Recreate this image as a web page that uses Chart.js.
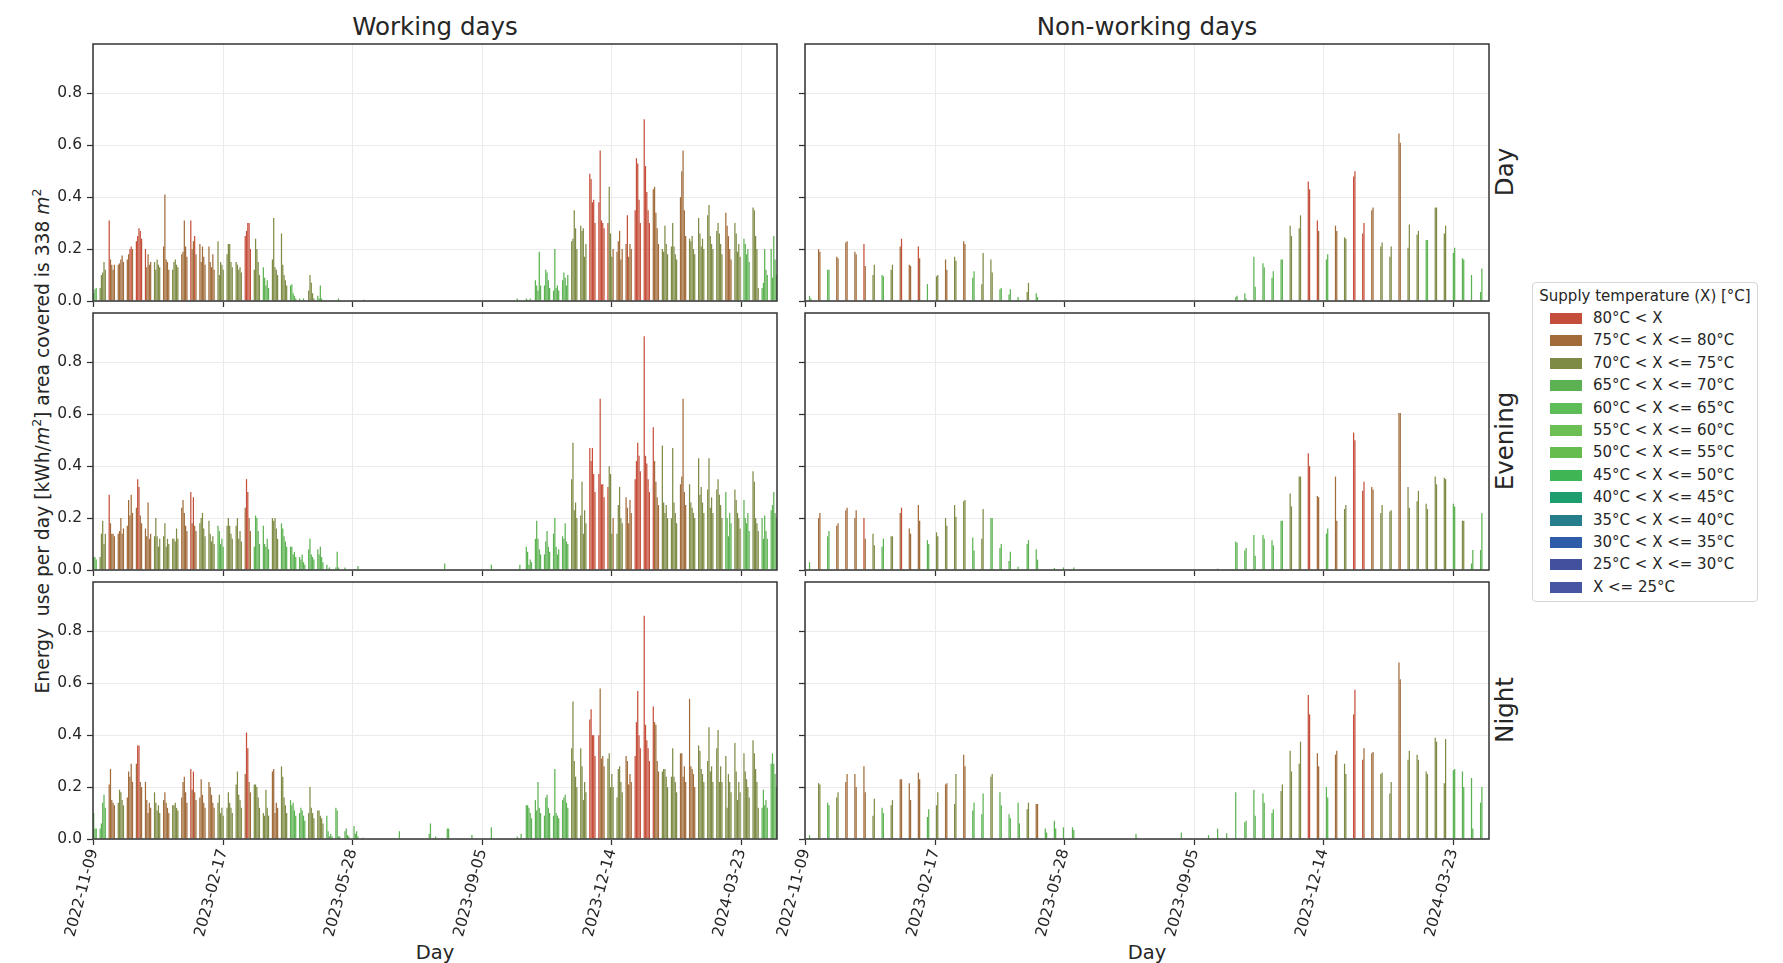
<!DOCTYPE html>
<html>
<head>
<meta charset="utf-8">
<script src="https://cdn.jsdelivr.net/npm/chart.js@4.4.1/dist/chart.umd.min.js"></script>
<style>
body { margin: 0; background: #fff; font-family: "DejaVu Sans", sans-serif; color: #262626; }
#page { position: relative; width: 1783px; height: 963px; overflow: hidden; background: #fff; }
canvas { position: absolute; }
.lbl { position: absolute; white-space: nowrap; transform: translate(-50%, -50%); }
.rot { transform: translate(-50%, -50%) rotate(-90deg); }
#legend { position: absolute; left: 1532px; top: 282px; width: 226px; height: 320px; box-sizing: border-box;
  border: 1px solid #d6d6d6; border-radius: 4px; font-size: 15px; }
#legend .ttl { position: absolute; top: 2px; left: 0; width: 100%; text-align: center; line-height: 22px; }
#legend .row { position: absolute; left: 0; height: 22.4px; line-height: 22.4px; white-space: nowrap; }
#legend .sw { position: absolute; left: 17px; top: 6px; width: 32px; height: 11px; }
#legend .tx { position: absolute; left: 60px; top: 0; }
</style>
</head>
<body>
<div id="page">
  <div class="lbl" style="left:435px;top:26px;font-size:24.5px">Working days</div>
  <div class="lbl" style="left:1147px;top:26px;font-size:24.5px">Non-working days</div>
  <div class="lbl rot" style="left:1504px;top:172px;font-size:24.5px">Day</div>
  <div class="lbl rot" style="left:1504px;top:441px;font-size:24.5px">Evening</div>
  <div class="lbl rot" style="left:1504px;top:710px;font-size:24.5px">Night</div>
  <div class="lbl rot" style="left:41px;top:441px;font-size:18.7px">Energy&nbsp; use per day [kWh/<i>m</i><sup style="font-size:12.5px">2</sup>] area covered is 338 <i>m</i><sup style="font-size:12.5px">2</sup></div>
  <div class="lbl" style="left:435px;top:952px;font-size:19.5px">Day</div>
  <div class="lbl" style="left:1147px;top:952px;font-size:19.5px">Day</div>
  <div id="legend"><div class="ttl">Supply temperature (X) [°C]</div></div>
</div>
<script>
// x axis: one slot per day
const firstDay = '2022-11-09';
const nDays = 528;
const xTickDates = ['2022-11-09', '2023-02-17', '2023-05-28', '2023-09-05', '2023-12-14', '2024-03-23'];
const yTicks = [0, 0.2, 0.4, 0.6, 0.8];
const yMax = 0.99;

const catLabels = ['X <= 25°C', '25°C < X <= 30°C', '30°C < X <= 35°C', '35°C < X <= 40°C', '40°C < X <= 45°C',
  '45°C < X <= 50°C', '50°C < X <= 55°C', '55°C < X <= 60°C', '60°C < X <= 65°C', '65°C < X <= 70°C',
  '70°C < X <= 75°C', '75°C < X <= 80°C', '80°C < X'];
const catColors = ['#4656a2', '#43509e', '#2d5ca8', '#267e8c', '#1e9d6e', '#40b554', '#66bc4e', '#6cbf52',
  '#5ebd56', '#5cb252', '#7d8b45', '#a16b3a', '#c54e3a'];
// letter used in the week tables below -> category index
const catCode = { g: 9, o: 10, b: 11, r: 12 };

const Z5 = [0, 0, 0, 0, 0], Z2 = [0, 0];

// working days: one row per week (Mon..Fri), week 0 starts Mon 2022-11-07
const wdDay = [
  [0,0,.03,.045,.05],[.05,.10,.11,.15,.12],[.31,.16,.14,.12,.14],[.14,.145,.16,.175,.15],[.16,.18,.20,.21,.20],
  [.23,.25,.28,.27,.24],[.20,.13,.18,.14,.15],[.15,.12,.16,.14,.13],[.21,.41,.16,.15,.12],[.12,.15,.16,.14,.13],
  [.18,.19,.31,.21,.17],[.31,.20,.23,.25,.18],[.22,.15,.21,.17,.14],[.21,.15,.13,.18,.12],[.23,.10,.15,.14,.12],
  [.18,.22,.22,.15,.13],[.15,.14,.12,.13,.11],[.25,.27,.30,.30,.20],[.12,.24,.20,.15,.10],[.13,.09,.06,.08,.05],
  [.16,.32,.13,.12,.10],[.26,.14,.10,.08,.06],[.06,.065,.03,.02,.01],[.01,0,0,.01,0],[.04,.10,.07,.03,.01],
  [.02,.01,.06,.01,0],Z5,[0,0,.01,0,0],Z5,Z5,
  [0,.005,0,0,0],Z5,Z5,Z5,Z5,Z5,Z5,Z5,Z5,Z5,
  Z5,Z5,Z5,Z5,Z5,Z5,Z5,[.01,0,0,0,0],[.01,.005,0,.01,0],[.08,.06,.04,.19,.06],
  [.06,.12,.11,.08,.05],[.04,.20,.05,.06,.04],[.08,.11,.09,.06,.10],[.23,.24,.35,.28,.20],[.29,.27,.28,.17,.22],
  [.49,.47,.38,.39,.30],[.38,.58,.31,.30,.28],[.30,.44,.26,.17,.20],[.19,.23,.27,.16,.20],[.22,.33,.17,.22,.20],
  [.35,.55,.53,.39,.30],[.70,.52,.42,.35,.30],[.43,.44,.34,.28,.22],[.20,.19,.29,.22,.18],[.21,.30,.21,.18,.16],
  [.40,.50,.58,.35,.25],[.24,.23,.25,.20,.18],[.32,.26,.21,.24,.20],[.33,.37,.25,.22,.20],[.27,.30,.26,.22,.18],
  [.34,.29,.25,.20,.16],[.30,.26,.19,.22,.17],[.24,.22,.18,.20,.15],[.36,.35,.25,.20,.05],[.05,.07,.20,.12,.10],
  [.20,.09,.25,.16,.10]
];
const wdEve = [
  [0,0,.05,.05,.04],[.05,.14,.19,.10,.14],[.29,.18,.14,.14,.13],[.14,.15,.20,.14,.16],[.17,.27,.21,.29,.22],
  [.24,.35,.32,.21,.18],[.16,.13,.26,.12,.14],[.13,.20,.13,.09,.12],[.13,.18,.09,.12,.10],[.12,.12,.11,.16,.12],
  [.24,.27,.22,.17,.15],[.30,.18,.28,.17,.15],[.18,.20,.22,.16,.13],[.19,.14,.11,.13,.10],[.17,.15,.10,.12,.09],
  [.17,.20,.17,.14,.12],[.17,.20,.12,.15,.11],[.24,.35,.30,.20,.15],[.09,.21,.20,.15,.10],[.17,.10,.09,.12,.08],
  [.20,.19,.20,.16,.12],[.18,.16,.13,.11,.09],[.09,.09,.06,.07,.05],[.05,.04,.06,.03,.02],[.08,.12,.06,.05,.04],
  [.08,.06,.09,.05,.03],[.02,.005,.01,0,0],[.01,.07,.01,0,0],[.01,0,0,0,0],[0,0,0,.015,0],
  Z5,Z5,Z5,Z5,[.003,0,0,0,0],Z5,Z5,Z5,Z5,[.025,0,0,0,0],
  Z5,Z5,Z5,Z5,[0,.02,0,0,0],Z5,Z5,[0,0,.02,0,0],[.09,.07,.02,.04,.03],[.12,.19,.12,.08,.06],
  [.06,.11,.15,.09,.07],[.14,.20,.09,.06,.08],[.13,.12,.18,.11,.10],[.35,.49,.23,.26,.20],[.21,.34,.14,.23,.18],
  [.47,.42,.47,.37,.30],[.37,.66,.33,.33,.28],[.32,.40,.37,.14,.20],[.14,.25,.32,.20,.18],[.28,.24,.18,.27,.22],
  [.35,.42,.49,.44,.38],[.90,.44,.41,.35,.30],[.55,.42,.34,.28,.25],[.48,.26,.22,.25,.20],[.20,.47,.26,.22,.18],
  [.33,.36,.66,.30,.25],[.33,.26,.24,.22,.20],[.43,.29,.32,.26,.22],[.31,.43,.24,.28,.22],[.31,.35,.29,.25,.20],
  [.30,.20,.13,.22,.18],[.31,.27,.22,.20,.16],[.27,.20,.18,.22,.15],[.38,.34,.20,.18,.15],[.20,.12,.21,.15,.12],
  [.23,.25,.30,.22,.20]
];
const wdNight = [
  [0,0,.10,.04,.04],[.04,.06,.14,.17,.12],[.21,.27,.15,.14,.13],[.14,.19,.18,.15,.13],[.16,.26,.24,.29,.22],
  [.29,.36,.36,.22,.20],[.22,.15,.10,.14,.12],[.18,.14,.11,.13,.10],[.15,.18,.14,.12,.10],[.13,.13,.14,.12,.11],
  [.16,.22,.24,.18,.14],[.27,.19,.26,.18,.15],[.16,.23,.17,.14,.12],[.22,.20,.17,.14,.12],[.14,.17,.10,.12,.09],
  [.12,.18,.14,.12,.10],[.21,.26,.17,.15,.12],[.25,.41,.35,.22,.18],[.21,.21,.20,.16,.12],[.10,.09,.19,.12,.09],
  [.26,.27,.10,.14,.12],[.28,.24,.16,.13,.10],[.15,.13,.14,.11,.09],[.10,.12,.11,.09,.07],[.10,.20,.12,.10,.08],
  [.11,.11,.09,.08,.06],[.09,.03,.01,.02,.01],[.12,.11,.01,.01,0],[.03,.04,.015,.01,0],[.05,.02,.03,.01,0],
  [.005,0,0,0,0],Z5,Z5,Z5,[.03,0,0,0,0],Z5,Z5,[0,0,.02,.06,0],[.01,0,0,0,0],[0,0,.04,.04,0],
  Z5,Z5,[.015,0,0,0,0],Z5,[0,.045,0,0,0],Z5,Z5,[.01,0,0,.02,0],[.13,.13,.12,.10,.08],[.15,.11,.22,.12,.10],
  [.09,.16,.17,.12,.10],[.09,.27,.10,.09,.08],[.15,.16,.17,.14,.12],[.35,.53,.30,.24,.20],[.35,.28,.15,.22,.18],
  [.46,.50,.40,.40,.32],[.40,.58,.31,.32,.28],[.31,.33,.20,.25,.20],[.16,.27,.28,.22,.18],[.32,.30,.21,.25,.22],
  [.32,.45,.57,.40,.35],[.86,.44,.38,.35,.30],[.51,.45,.44,.30,.26],[.26,.27,.27,.24,.20],[.24,.35,.24,.22,.18],
  [.33,.33,.24,.28,.22],[.54,.28,.27,.25,.20],[.36,.34,.27,.25,.22],[.30,.43,.26,.28,.22],[.35,.42,.22,.28,.22],
  [.32,.12,.25,.22,.18],[.37,.26,.15,.22,.18],[.33,.26,.23,.20,.16],[.38,.33,.27,.22,.12],[.12,.19,.13,.15,.12],
  [.29,.33,.29,.25,.20]
];

// non-working days: one row per weekend (Sat, Sun)
const nwDay = [
  [.02,.01],[.20,.19],[.12,.12],[.17,.165],[.225,.23],[.19,.18],[.22,.135],[.10,.14],[.10,.095],[.12,.14],
  [.21,.24],[.14,.135],[.21,.165],[.065,0],[.095,.10],[.16,.12],[.17,.155],[.23,.22],[.09,.115],[.065,.185],
  [.16,.11],[.045,.05],[.025,.045],[.015,0],[.035,.07],[.03,.015],Z2,Z2,Z2,Z2,
  Z2,Z2,Z2,Z2,Z2,Z2,Z2,Z2,Z2,Z2,
  Z2,Z2,Z2,Z2,Z2,Z2,Z2,[.015,.02],[.03,.01],[.17,.055],
  [.145,.13],[.09,.115],[.16,.16],[.29,.25],[.28,.33],[.46,.43],[.31,.27],[.16,.18],[.29,.27],[.245,.24],
  [.48,.50],[.26,.30],[.35,.36],[.21,.225],[.17,.21],[.645,.61],[.205,.295],[.255,.27],[.235,.235],[.36,.36],
  [.26,.29],[.185,.205],[.165,.16],[.10,0],[.035,.125]
];
const nwEve = [
  [.03,0],[.20,.22],[.13,.15],[.17,.18],[.23,.24],[.20,.23],[.20,.12],[.14,.095],[.09,.12],[.13,.13],
  [.22,.24],[.16,.14],[.25,.19],[.115,.10],[.145,.13],[.20,.17],[.25,.205],[.265,.27],[.125,.075],[.12,.235],
  [.20,.20],[.085,.10],[.035,.07],[.013,0],[.10,.115],[.08,.04],Z2,[.008,0],[.01,0],[0,.01],
  Z2,Z2,Z2,Z2,Z2,Z2,Z2,Z2,Z2,Z2,
  Z2,Z2,Z2,Z2,Z2,[.005,0],Z2,[.11,.105],[.075,.085],[.135,.055],
  [.135,.12],[.115,.095],[.19,.19],[.295,.245],[.36,.36],[.45,.40],[.285,.28],[.14,.16],[.36,.19],[.235,.25],
  [.53,.50],[.305,.34],[.32,.31],[.22,.25],[.225,.23],[.605,.605],[.32,.24],[.265,.305],[.255,.235],[.36,.33],
  [.355,.35],[.255,.245],[.19,.19],[.025,.077],[.077,.22]
];
const nwNight = [
  [.015,0],[.215,.21],[.14,.13],[.16,.18],[.22,.25],[.25,.20],[.28,.18],[.09,.155],[.12,.10],[.13,.15],
  [.23,.23],[.215,.15],[.255,.23],[.085,.115],[.13,.18],[.21,.215],[.135,.25],[.325,.28],[.11,.14],[.095,.175],
  [.24,.25],[.18,.13],[.095,.08],[.14,.06],[.115,.14],[.135,.135],[.04,.025],[.07,.04],[.045,0],[.045,.035],
  Z2,Z2,Z2,Z2,Z2,Z2,[.02,.005],Z2,Z2,Z2,
  Z2,[.025,0],Z2,Z2,[.015,0],[.04,0],[.022,0],[.18,0],[.065,.07],[.19,.09],
  [.175,.14],[.10,.115],[.185,.21],[.34,.26],[.29,.375],[.555,.48],[.33,.28],[.20,.16],[.325,.34],[.29,.25],
  [.48,.575],[.305,.35],[.33,.335],[.25,.255],[.175,.22],[.68,.615],[.305,.34],[.325,.305],[.26,.25],[.39,.375],
  [.215,.385],[.265,.27],[.26,.20],[.235,.04],[.14,.20]
];

// dominant supply temperature per week (g = 65-70, o = 70-75, b = 75-80, r = >80); missing weeks are g
// a 5 (or 2) letter code gives one letter per day
const wdDayCat = {1:'o',2:'rbbbb',3:'b',4:'bbrrb',5:'r',6:'rbbbb',7:'o',8:'b',9:'o',10:'b',11:'rbbrb',12:'b',13:'b',
  14:'o',15:'o',16:'o',17:'r',18:'o',20:'o',21:'o',24:'o',53:'o',54:'o',55:'r',56:'r',57:'rooob',58:'b',59:'brbbb',
  60:'r',61:'r',62:'b',63:'o',64:'o',65:'b',66:'o',67:'o',68:'o',69:'o',70:'b',71:'o',73:'o'};
const wdEveCat = {1:'o',2:'rbbbb',3:'b',4:'b',5:'brrbb',6:'b',7:'o',8:'o',9:'o',10:'b',11:'rbrbb',12:'o',13:'o',
  15:'o',16:'o',17:'brrbb',20:'o',53:'o',54:'o',55:'r',56:'r',57:'rooob',58:'o',59:'b',60:'r',61:'r',62:'rbbbb',
  63:'o',64:'o',65:'b',66:'o',67:'o',68:'o',69:'o',71:'o',73:'o'};
const wdNightCat = {2:'b',3:'o',4:'b',5:'brrbb',6:'b',7:'o',8:'b',9:'o',10:'b',11:'rbrbb',12:'b',13:'b',14:'o',
  15:'o',16:'o',17:'brrbb',18:'o',19:'o',20:'b',21:'o',24:'o',25:'o',53:'o',54:'o',55:'r',56:'rbbbb',57:'o',58:'o',
  59:'b',60:'r',61:'r',62:'rbbbb',63:'o',64:'o',65:'b',66:'b',67:'o',68:'o',69:'o',70:'o',71:'o',72:'o',73:'o'};
const nwDayCat = {1:'b',3:'b',4:'b',5:'b',6:'rb',7:'o',9:'o',10:'br',11:'b',12:'rb',14:'o',15:'b',16:'o',17:'b',
  19:'o',20:'o',24:'o',53:'o',54:'o',55:'r',56:'rb',58:'b',59:'o',60:'r',61:'r',62:'b',63:'o',64:'o',65:'b',
  66:'o',67:'o',69:'o',70:'o'};
const nwEveCat = {1:'b',3:'b',4:'b',5:'b',6:'rb',7:'o',9:'o',10:'br',11:'b',12:'b',14:'o',15:'o',16:'o',17:'o',
  19:'o',45:'b',53:'o',54:'o',55:'r',56:'b',58:'b',59:'o',60:'r',61:'r',62:'b',63:'o',64:'o',65:'b',66:'o',
  67:'o',68:'o',69:'o',70:'o',72:'o'};
const nwNightCat = {1:'o',3:'o',4:'b',5:'b',6:'b',7:'o',9:'o',10:'b',11:'b',12:'b',14:'o',15:'b',16:'o',17:'b',
  20:'o',24:'o',25:'b',52:'o',53:'o',54:'o',55:'r',56:'b',58:'b',59:'o',60:'r',61:'rb',62:'b',63:'o',64:'o',
  65:'b',66:'o',67:'o',68:'o',69:'o',70:'o'};

// day labels
const days = [];
const t0 = Date.parse(firstDay + 'T00:00:00Z');
for (let i = 0; i < nDays; i++) days.push(new Date(t0 + i * 864e5).toISOString().slice(0, 10));

function buildSeries(weeks, cats, working) {
  const out = catLabels.map(() => new Array(nDays).fill(null));
  weeks.forEach((vals, w) => {
    const code = cats[w] || 'g';
    vals.forEach((v, d) => {
      const i = working ? 7 * w - 2 + d : 7 * w + 3 + d;
      if (i < 0 || i >= nDays || !v) return;
      out[catCode[code.length > 1 ? code[d] : code]][i] = v;
    });
  });
  return out;
}

Chart.defaults.font.family = '"DejaVu Sans", sans-serif';
Chart.defaults.color = '#262626';

const boxPlugin = {
  id: 'box',
  afterDraw(chart) {
    const a = chart.chartArea, c = chart.ctx;
    c.save();
    c.strokeStyle = '#333';
    c.lineWidth = 1.5;
    c.strokeRect(a.left, a.top, a.right - a.left, a.bottom - a.top);
    c.restore();
  }
};

// scales must not ask the layout for extra room: panels sit at fixed places
function noPad(s) { s.paddingTop = 0; s.paddingBottom = 0; s.paddingLeft = 0; s.paddingRight = 0; }

const colLeft = [93, 805], rowTop = [44, 313, 582];
const panelW = 684, panelH = 257, AX = 60, PT = 4, PR = 4;

const panels = [
  [wdDay, wdDayCat, true, 0, 0], [nwDay, nwDayCat, false, 0, 1],
  [wdEve, wdEveCat, true, 1, 0], [nwEve, nwEveCat, false, 1, 1],
  [wdNight, wdNightCat, true, 2, 0], [nwNight, nwNightCat, false, 2, 1]
];

const page = document.getElementById('page');
panels.forEach(([weeks, cats, working, row, col]) => {
  const xb = row === 2 ? 118 : 10;
  const cv = document.createElement('canvas');
  const w = AX + panelW + PR, h = PT + panelH + xb;
  cv.width = w; cv.height = h;
  cv.style.width = w + 'px'; cv.style.height = h + 'px';
  cv.style.left = (colLeft[col] - AX) + 'px';
  cv.style.top = (rowTop[row] - PT) + 'px';
  page.appendChild(cv);

  const series = buildSeries(weeks, cats, working);
  const grid = { color: '#ebebeb', lineWidth: 1, tickColor: '#333', tickLength: 6, tickWidth: 1.25 };

  new Chart(cv, {
    type: 'bar',
    data: {
      labels: days,
      datasets: series.map((d, k) => ({
        label: catLabels[k], data: d, backgroundColor: catColors[k],
        borderWidth: 0, barPercentage: 0.95, categoryPercentage: 1
      }))
    },
    options: {
      responsive: false,
      animation: false,
      layout: { padding: { left: 0, top: PT, right: PR, bottom: 0 } },
      plugins: { legend: { display: false }, tooltip: { enabled: false } },
      scales: {
        x: {
          stacked: true,
          offset: true,
          grid: Object.assign({ offset: false }, grid),
          border: { display: false },
          ticks: { display: row === 2, autoSkip: false, minRotation: 75, maxRotation: 75, font: { size: 15.5 }, padding: 2 },
          afterBuildTicks: s => { s.ticks = s.ticks.filter(t => xTickDates.includes(days[t.value])); },
          afterFit: s => { s.height = xb; noPad(s); }
        },
        y: {
          stacked: true,
          min: 0,
          max: yMax,
          grid: grid,
          border: { display: false },
          ticks: { display: col === 0, font: { size: 15.5 }, padding: 5, callback: v => v.toFixed(1) },
          afterBuildTicks: s => { s.ticks = yTicks.map(v => ({ value: v })); },
          afterFit: s => { s.width = AX; noPad(s); }
        }
      }
    },
    plugins: [boxPlugin]
  });
});

// legend, highest temperature first
const legend = document.getElementById('legend');
catLabels.slice().reverse().forEach((lab, k) => {
  const r = document.createElement('div');
  r.className = 'row';
  r.style.top = (24 + 22.4 * k) + 'px';
  r.innerHTML = '<span class="sw" style="background:' + catColors[catLabels.length - 1 - k] + '"></span><span class="tx">' +
    lab.replace(/</g, '&lt;') + '</span>';
  legend.appendChild(r);
});
</script>
</body>
</html>
